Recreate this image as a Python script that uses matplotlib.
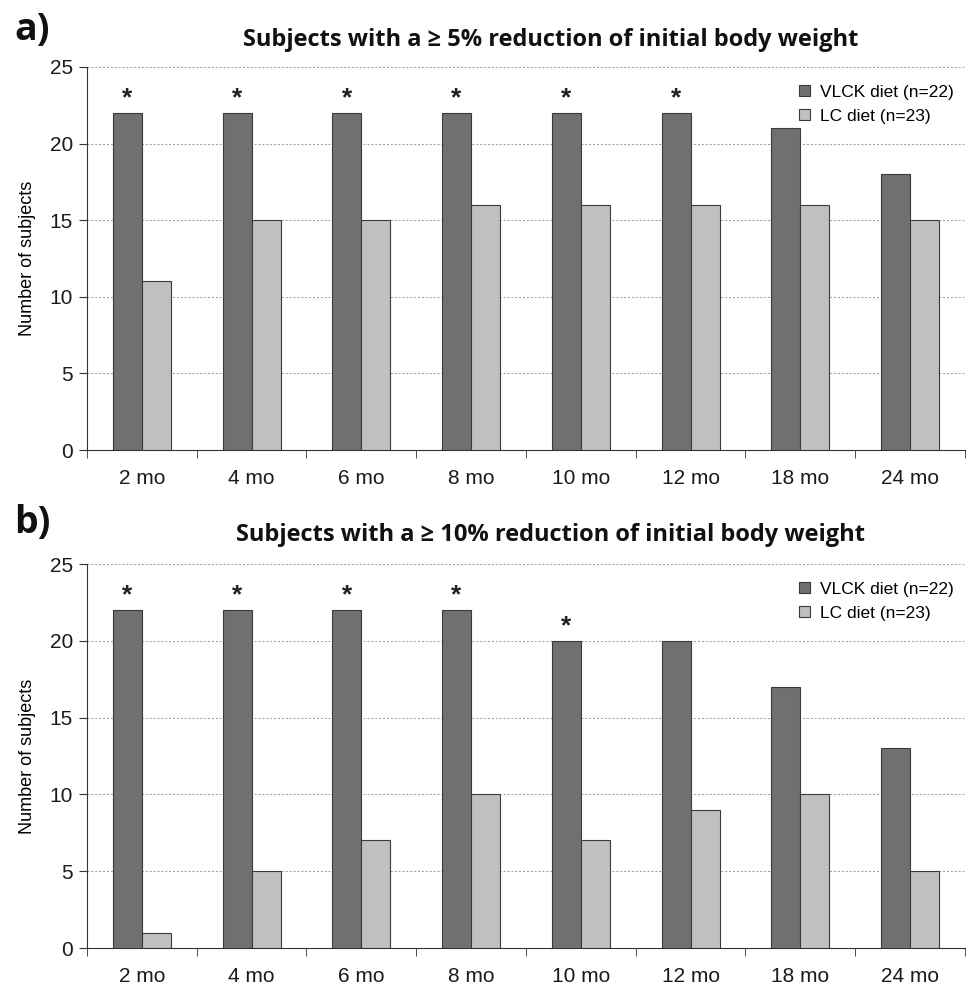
import matplotlib
matplotlib.use("Agg")
import matplotlib.pyplot as plt
import numpy as np
from matplotlib.patches import Patch

categories = ["2 mo", "4 mo", "6 mo", "8 mo", "10 mo", "12 mo", "18 mo", "24 mo"]
vlck_a = [22, 22, 22, 22, 22, 22, 21, 18]
lc_a = [11, 15, 15, 16, 16, 16, 16, 15]
stars_a = [True, True, True, True, True, True, False, False]
vlck_b = [22, 22, 22, 22, 20, 20, 17, 13]
lc_b = [1, 5, 7, 10, 7, 9, 10, 5]
stars_b = [True, True, True, True, True, False, False, False]
titles = ["Subjects with a \u2265 5% reduction of initial body weight",
          "Subjects with a \u2265 10% reduction of initial body weight"]
panel_labels = ["a)", "b)"]
legend_labels = ["VLCK diet (n=22)", "LC diet (n=23)"]

dark = "#707070"
light = "#c0c0c0"
edge = "#3a3a3a"

fig = plt.figure(figsize=(9.78, 9.85), dpi=100)
W, H = 978, 985
rects = [(87, 67, 965, 450), (87, 564, 965, 948)]
title_y = [40, 535]
label_y = [30, 523]

for i, (vl, lc, st) in enumerate([(vlck_a, lc_a, stars_a), (vlck_b, lc_b, stars_b)]):
    x0, ytop, x1, ybot = rects[i]
    ax = fig.add_axes([x0 / W, 1 - ybot / H, (x1 - x0) / W, (ybot - ytop) / H])
    x = np.arange(len(categories))
    bw = 0.265
    ax.bar(x - bw / 2, vl, bw, color=dark, edgecolor=edge, linewidth=0.8, zorder=3)
    ax.bar(x + bw / 2, lc, bw, color=light, edgecolor=edge, linewidth=0.8, zorder=3)
    for xi, v, s in zip(x, vl, st):
        if s:
            ax.text(xi - bw / 2, v + 0.95, "*", ha="center", va="center",
                    fontsize=19, fontweight="bold", fontfamily="Liberation Sans", color="#222222")
    ax.set_xlim(-0.5, len(categories) - 0.5)
    ax.set_ylim(0, 25)
    ax.set_yticks([0, 5, 10, 15, 20, 25])
    ax.yaxis.grid(True, linestyle=(0, (2, 2)), color="#999999", linewidth=0.7, zorder=0)
    ax.set_axisbelow(True)
    ax.set_xticks(x)
    ax.set_xticklabels(categories)
    ax.set_xticks(np.arange(-0.5, len(categories)), minor=True)
    ax.tick_params(axis="x", which="major", length=0, pad=14)
    ax.tick_params(axis="x", which="minor", length=6, direction="out", color="#333333")
    ax.tick_params(axis="y", length=6, direction="out", color="#333333", pad=4)
    for lab in ax.get_xticklabels() + ax.get_yticklabels():
        lab.set_fontfamily("Liberation Sans")
        lab.set_fontsize(15)
        lab.set_color("#1a1a1a")
    for sp in ["top", "right"]:
        ax.spines[sp].set_visible(False)
    ax.spines["left"].set_color("#333333")
    ax.spines["bottom"].set_color("#333333")
    ax.set_ylabel("Number of subjects", fontfamily="Liberation Sans", fontsize=13, labelpad=10)
    handles = [Patch(facecolor=dark, edgecolor=edge, linewidth=0.8),
               Patch(facecolor=light, edgecolor=edge, linewidth=0.8)]
    leg = ax.legend(handles, legend_labels, loc="upper right", bbox_to_anchor=(1.005, 0.995),
                    frameon=False, prop={"family": "Liberation Sans", "size": 12.5},
                    handlelength=0.6, handleheight=0.6, handletextpad=0.6, labelspacing=0.55)
    fig.text(551 / W, 1 - title_y[i] / H, titles[i], ha="center", va="center",
             fontsize=17, fontweight="bold", fontfamily="Open Sans", color="#111111")
    fig.text(14 / W, 1 - label_y[i] / H, panel_labels[i], ha="left", va="center",
             fontsize=27, fontweight="bold", fontfamily="Open Sans", color="#111111")

fig.savefig("out.png", dpi=100)
